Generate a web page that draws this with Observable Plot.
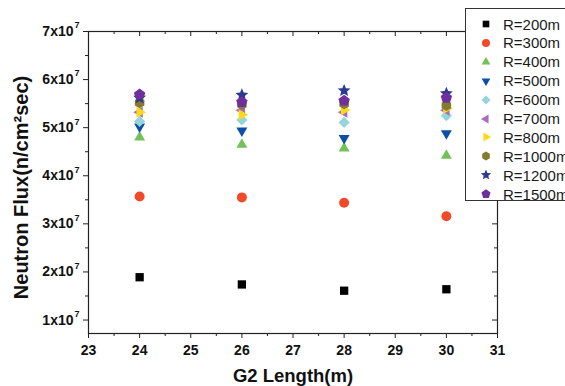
<!DOCTYPE html>
<html><head><meta charset="utf-8">
<script src="https://cdn.jsdelivr.net/npm/d3@7"></script>
<script src="https://cdn.jsdelivr.net/npm/@observablehq/plot@0.6"></script>
<style>
html,body{margin:0;padding:0;background:#fff;overflow:hidden;}
#wrap{position:relative;width:565px;height:386px;overflow:hidden;font-family:"Liberation Sans",Arial,sans-serif;}
#legend{position:absolute;left:465px;top:8px;width:140px;height:193px;border:1px solid #333;background:#fff;box-sizing:border-box;}
.row{position:absolute;left:0;height:19px;display:flex;align-items:center;font-size:15px;color:#1a1a1a;white-space:nowrap;}
.row svg{margin-left:13px;margin-right:10px;}
</style></head><body><div id="wrap"></div>
<script>
// ---- data ----
const lengths = [24, 26, 28, 30];
const seriesNames = ["R=200m","R=300m","R=400m","R=500m","R=600m","R=700m","R=800m","R=1000m","R=1200m","R=1500m"];
const r200  = [1.89, 1.74, 1.61, 1.64];
const r300  = [3.57, 3.55, 3.44, 3.16];
const r400  = [4.80, 4.65, 4.57, 4.42];
const r500  = [5.02, 4.94, 4.78, 4.88];
const r600  = [5.13, 5.16, 5.11, 5.25];
const r700  = [5.32, 5.36, 5.32, 5.36];
const r800  = [5.32, 5.27, 5.37, 5.40];
const r1000 = [5.52, 5.48, 5.50, 5.46];
const r1200 = [5.62, 5.68, 5.77, 5.71];
const r1500 = [5.69, 5.53, 5.56, 5.62];
const seriesValues = [r200, r300, r400, r500, r600, r700, r800, r1000, r1200, r1500];
const unit = 1e7;
const colors = ["#000000","#ef4b2a","#72c15a","#0d4ea6","#94d4da","#a56cc1","#ffd817","#857b30","#2b3990","#70309b"];
const xTicks = [23,24,25,26,27,28,29,30,31];
const xMinor = [23.5,24.5,25.5,26.5,27.5,28.5,29.5,30.5];
const yTicks = [1e7,2e7,3e7,4e7,5e7,6e7,7e7];
const yMinor = [1.5e7,2.5e7,3.5e7,4.5e7,5.5e7,6.5e7];
const yTickLabels = ["1x10","2x10","3x10","4x10","5x10","6x10","7x10"];
const yTickExp = "7";
const xTitle = "G2 Length(m)";
const yTitle = "Neutron Flux(n/cm²sec)";

// ---- symbols ----
function regular(c, n, R, rot) {
  for (let i = 0; i < n; i++) {
    const a = rot + i * 2 * Math.PI / n;
    const px = R * Math.sin(a), py = -R * Math.cos(a);
    if (i === 0) c.moveTo(px, py); else c.lineTo(px, py);
  }
  c.closePath();
}
const rad = s => Math.sqrt(s / Math.PI);
const symSquare = {draw(c, s){ const r = rad(s) * 0.83; c.rect(-r, -r, 2*r, 2*r); }};
const symCircle = {draw(c, s){ const r = rad(s); c.moveTo(r, 0); c.arc(0, 0, r, 0, 2*Math.PI); }};
const symTriUp = {draw(c, s){ regular(c, 3, rad(s) * 1.27, 0); }};
const symTriDown = {draw(c, s){ regular(c, 3, rad(s) * 1.27, Math.PI); }};
const symTriLeft = {draw(c, s){ regular(c, 3, rad(s) * 1.27, -Math.PI/2); }};
const symTriRight = {draw(c, s){ regular(c, 3, rad(s) * 1.27, Math.PI/2); }};
const symDiamond = {draw(c, s){ regular(c, 4, rad(s) * 1.12, 0); }};
const symHexagon = {draw(c, s){ regular(c, 6, rad(s) * 1.1, 0); }};
const symPentagon = {draw(c, s){ regular(c, 5, rad(s) * 1.2, 0); }};
const symStar = {draw(c, s){
  const R = rad(s) * 1.35, ri = R * 0.45;
  for (let i = 0; i < 10; i++) {
    const a = i * Math.PI / 5, rr = i % 2 ? ri : R;
    const px = rr * Math.sin(a), py = -rr * Math.cos(a);
    if (i === 0) c.moveTo(px, py); else c.lineTo(px, py);
  }
  c.closePath();
}};
const symbols = [symSquare, symCircle, symTriUp, symTriDown, symDiamond, symTriLeft, symTriRight, symHexagon, symStar, symPentagon];

const data = seriesNames.flatMap((name, i) => lengths.map((L, j) => ({series: name, length: L, flux: seriesValues[i][j] * unit})));

const W = 565, H = 386, mL = 88, mR = 68, mT = 31, mB = 53;
const fw = W - mL - mR, fh = H - mT - mB;
const axisColor = "#222";
const noText = () => "";
const plot = Plot.plot({
  width: W, height: H,
  marginLeft: mL, marginRight: mR, marginTop: mT, marginBottom: mB,
  x: {domain: [23, 31], axis: null},
  y: {domain: [0.72e7, 7e7], axis: null},
  symbol: {domain: seriesNames, range: symbols},
  color: {domain: seriesNames, range: colors},
  style: {fontFamily: '"Liberation Sans", Arial, sans-serif', background: "transparent", color: "#111"},
  marks: [
    Plot.axisX({ticks: xMinor, tickSize: 3, tickFormat: noText, label: null, stroke: axisColor}),
    Plot.axisX({ticks: xTicks, tickSize: 5, tickPadding: 7, label: null, fontSize: 14, fontWeight: "bold", stroke: axisColor, fill: "#111"}),
    Plot.axisY({ticks: yMinor, tickSize: 3, tickFormat: noText, label: null, stroke: axisColor}),
    Plot.axisY({ticks: yTicks, tickSize: 5, tickPadding: 10, label: null, tickFormat: d => yTickLabels[yTicks.indexOf(d)], fontSize: 14, fontWeight: "bold", stroke: axisColor, fill: "#111"}),
    // inward ticks on top and right sides
    Plot.ruleX(xTicks, {x: d => d, insetBottom: fh - 5, stroke: axisColor}),
    Plot.ruleX(xMinor, {x: d => d, insetBottom: fh - 3, stroke: axisColor}),
    Plot.ruleY(yTicks, {y: d => d, insetLeft: fw - 5, stroke: axisColor}),
    Plot.ruleY(yMinor, {y: d => d, insetLeft: fw - 3, stroke: axisColor}),
    Plot.frame({stroke: axisColor, strokeWidth: 1.2}),
    Plot.text(yTicks, {x: 23, y: d => d, text: () => yTickExp, dx: -14, dy: -6, textAnchor: "start", fontSize: 9, fontWeight: "bold", fill: "#111"}),
    Plot.dot(data, {x: "length", y: "flux", symbol: "series", fill: "series", stroke: "none", r: 5}),
    Plot.text([xTitle], {frameAnchor: "bottom", text: d => d, dy: 48, textAnchor: "middle", fontSize: 18.5, fontWeight: "bold", fill: "#111"}),
    Plot.text([yTitle], {frameAnchor: "left", text: d => d, dx: -67, dy: 5, textAnchor: "middle", rotate: -90, fontSize: 20, fontWeight: "bold", fill: "#111"})
  ]
});
const wrap = document.getElementById("wrap");
wrap.appendChild(plot);

// ---- legend ----
const legend = document.createElement("div");
legend.id = "legend";
seriesNames.forEach((name, i) => {
  const row = document.createElement("div");
  row.className = "row";
  row.style.top = (5.5 + i * 18.9) + "px";
  const sz = 14;
  const path = d3.symbol(symbols[i], Math.PI * 16)();
  row.innerHTML = `<svg width="${sz}" height="${sz}" viewBox="${-sz/2} ${-sz/2} ${sz} ${sz}"><path d="${path}" fill="${colors[i]}"/></svg><span>${name}</span>`;
  legend.appendChild(row);
});
wrap.appendChild(legend);
</script>
</body></html>
